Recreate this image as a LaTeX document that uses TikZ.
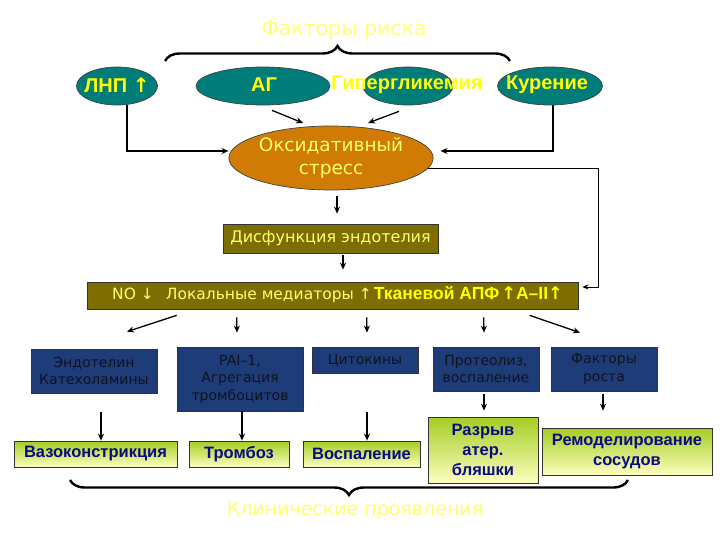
\documentclass[tikz,border=0pt]{standalone}
\usepackage{fontspec}
\setmainfont{DejaVu Sans}
\newfontfamily\boldsans{Liberation Sans}
\usetikzlibrary{shapes.geometric,arrows.meta,decorations.pathreplacing}
\definecolor{tealc}{RGB}{0,125,120}
\definecolor{orangec}{RGB}{208,124,4}
\definecolor{olivec}{RGB}{126,110,0}
\definecolor{navyc}{RGB}{30,60,120}
\definecolor{limec}{RGB}{165,205,35}
\definecolor{paleyc}{RGB}{252,254,190}
\definecolor{yelc}{RGB}{255,255,0}
\definecolor{softyc}{RGB}{255,255,110}
\definecolor{titlec}{RGB}{255,255,120}
\definecolor{boxtxt}{RGB}{15,18,30}
\definecolor{bluetxt}{RGB}{10,10,130}
\newcommand{\uparr}{{\rmfamily\bfseries ↑}}
\begin{document}
\begin{tikzpicture}[x=1pt,y=-1pt,
  riskell/.style={ellipse,draw=black!75,line width=0.7pt,fill=tealc,inner sep=0pt,minimum height=38pt},
  risktxt/.style={text=yelc,font=\boldsans\fontsize{20}{22}\selectfont\bfseries,inner sep=0pt},
  oxell/.style={ellipse,draw=black!75,line width=0.7pt,fill=orangec,inner sep=0pt,minimum width=204pt,minimum height=64pt,text=softyc,align=center,font=\fontsize{18.5}{23}\selectfont},
  olivebox/.style={rectangle,draw=black!80,line width=0.7pt,fill=olivec,inner sep=0pt},
  navybox/.style={rectangle,draw=black!80,line width=0.7pt,fill=navyc,inner sep=0pt,text=boxtxt,align=center,font=\fontsize{14}{17.5}\selectfont},
  greenbox/.style={rectangle,draw=black!80,line width=0.7pt,top color=limec,bottom color=paleyc,inner sep=0pt,text=bluetxt,align=center,font=\boldsans\fontsize{16.5}{20}\selectfont\bfseries},
  arr/.style={line width=1.3pt,-{Stealth[length=7pt,width=6pt]}},
  thinarr/.style={line width=0.7pt,-{Stealth[length=6pt,width=5pt]}},
  bracestyle/.style={line width=2.4pt,decorate,decoration={brace,amplitude=15pt}},
  bracemir/.style={line width=2.4pt,decorate,decoration={brace,amplitude=15pt,mirror}}
]
\useasboundingbox (0,0) rectangle (720,540);

% titles
\node[text=titlec,font=\fontsize{20.5}{24}\selectfont] (title) at (344,30) {Факторы риска};
\node[text=softyc,font=\fontsize{19}{23}\selectfont] (clin) at (355,511) {Клинические проявления};

% braces
\coordinate (tb1) at (165,61);
\coordinate (tb2) at (510,61);
\draw[bracestyle] (tb1) -- (tb2);
\coordinate (bb1) at (70,480);
\coordinate (bb2) at (628,480);
\draw[bracemir] (bb1) -- (bb2);

% risk factors
\node[riskell,minimum width=81pt] (lnp) at (117,86) {};
\node[riskell,minimum width=134pt] (ag) at (263,86) {};
\node[riskell,minimum width=90pt] (hyp) at (408,86) {};
\node[riskell,minimum width=105pt] (smoke) at (550,86) {};
\node[risktxt] (lnpT) at (117,85) {ЛНП \uparr};
\node[risktxt] (agT) at (264,85) {АГ};
\node[risktxt] (hypT) at (407,85) {Гипергликемия};
\node[risktxt] (smokeT) at (547,85) {Курение};

% oxidative stress
\node[oxell] (oxid) at (331,158) {Оксидативный\\стресс};

% dysfunction
\node[olivebox,minimum width=215pt,minimum height=29pt,text=softyc,font=\fontsize{16}{19}\selectfont] (dysf) at (330.5,238.5) {Дисфункция эндотелия};

% mediators
\node[olivebox,minimum width=491pt,minimum height=27pt] (med) at (332.5,295.5) {};
\node[anchor=west,inner sep=0pt,text=softyc,font=\fontsize{15.5}{19}\selectfont] (medT) at (112,295)
  {NO ↓\hspace{12pt}Локальные медиаторы ↑\hspace{2pt}{\color{yelc}\boldsans\fontsize{17.5}{19}\selectfont\bfseries Тканевой АПФ\hspace{2pt}\uparr А–II\uparr}};

% navy boxes
\node[navybox,minimum width=126pt,minimum height=44pt] (endo) at (94,371) {Эндотелин\\Катехоламины};
\node[navybox,minimum width=126pt,minimum height=64pt] (pai) at (240,379) {PAI–1,\\Агрегация\\тромбоцитов};
\node[navybox,minimum width=106pt,minimum height=26pt] (cyto) at (365,360) {Цитокины};
\node[navybox,minimum width=106pt,minimum height=44pt] (prot) at (486,369) {Протеолиз,\\воспаление};
\node[navybox,minimum width=106pt,minimum height=44pt] (growth) at (604,369) {Факторы\\роста};

% clinical boxes
\node[greenbox,minimum width=163pt,minimum height=26pt] (vaso) at (95.5,454) {Вазоконстрикция};
\node[greenbox,minimum width=100pt,minimum height=26pt] (tromb) at (239,454) {Тромбоз};
\node[greenbox,minimum width=117pt,minimum height=26pt] (vospal) at (361.5,454) {Воспаление};
\node[greenbox,minimum width=110pt,minimum height=66pt] (razryv) at (483,450) {Разрыв\\атер.\\бляшки};
\node[greenbox,minimum width=170pt,minimum height=47pt] (remod) at (627,451.5) {Ремоделирование\\сосудов};

% connectors top
\draw[arr] ([xshift=10pt]lnp.south) |- ([yshift=7pt]oxid.west);
\draw[arr] ([xshift=3pt]smoke.south) |- ([xshift=7pt,yshift=7pt]oxid.east);
\coordinate (agEnd) at (303,123);
\coordinate (hypEnd) at (368,123);
\draw[arr] ([xshift=9pt,yshift=-5pt]ag.south) -- (agEnd);
\draw[arr] ([xshift=-9pt,yshift=-6pt]hyp.south) -- (hypEnd);
\draw[arr,shorten <=6pt,shorten >=10pt] ([xshift=6pt]oxid.south) -- ([xshift=6.5pt]dysf.north);
\draw[arr,shorten <=2pt,shorten >=12pt] ([xshift=12.5pt]dysf.south) -- ([xshift=10.5pt]med.north);
\draw[thinarr] ([xshift=-6pt,yshift=-10pt]oxid.east) -| ([xshift=20pt,yshift=8.5pt]med.east) -- ([xshift=4pt,yshift=8.5pt]med.east);

% med -> middle
\draw[arr] ([xshift=90pt,yshift=-6pt]med.south west) -- ([xshift=33pt,yshift=17pt]endo.north);
\draw[arr] ([xshift=150pt,yshift=-8pt]med.south west) -- ([xshift=-3pt,yshift=14pt]pai.north);
\draw[arr] ([xshift=280pt,yshift=-8pt]med.south west) -- ([xshift=2pt,yshift=14pt]cyto.north);
\draw[arr] ([xshift=397pt,yshift=-8pt]med.south west) -- ([xshift=-2pt,yshift=14pt]prot.north);
\draw[arr] ([xshift=443pt,yshift=-6pt]med.south west) -- ([xshift=-24pt,yshift=14pt]growth.north);

% middle -> bottom
\draw[arr] ([xshift=7pt,yshift=-19pt]endo.south) -- ([xshift=5.5pt]vaso.north);
\draw[arr] ([xshift=2pt]pai.south) -- ([xshift=3pt]tromb.north);
\draw[arr] ([xshift=2pt,yshift=-39pt]cyto.south) -- ([xshift=5.5pt]vospal.north);
\draw[arr] ([xshift=-2pt,yshift=-3pt]prot.south) -- ([xshift=1pt,yshift=6pt]razryv.north);
\draw[arr] ([xshift=-1pt,yshift=-3pt]growth.south) -- ([xshift=-24pt,yshift=17pt]remod.north);
\end{tikzpicture}
\end{document}
